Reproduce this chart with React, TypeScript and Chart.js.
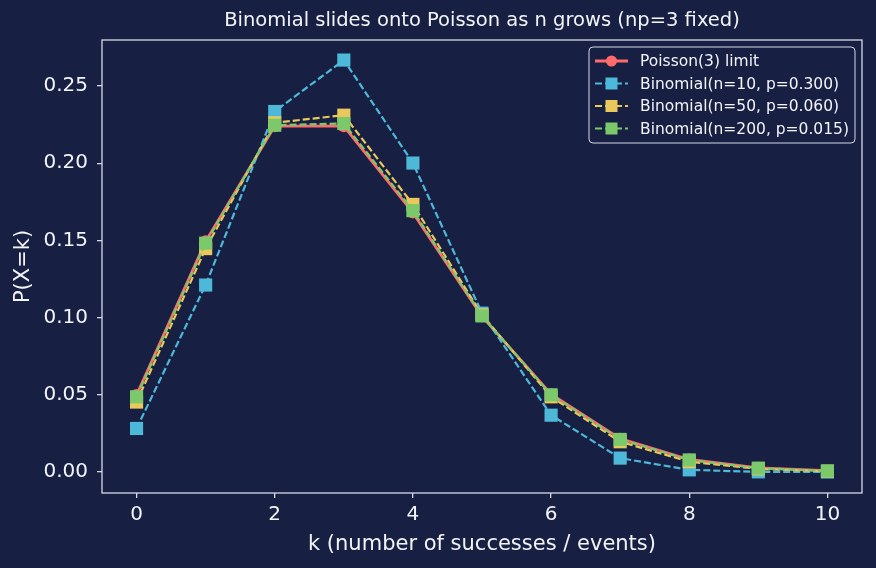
import React, { useEffect, useRef } from "react";
import { Chart, registerables } from "chart.js";

Chart.register(...registerables);

// k values and probability mass for each distribution
const kValues = [0, 1, 2, 3, 4, 5, 6, 7, 8, 9, 10];
const poisson3 = [0.0498, 0.1494, 0.224, 0.224, 0.168, 0.1008, 0.0504, 0.0216, 0.0081, 0.0027, 0.0008];
const binom10 = [0.0282, 0.1211, 0.2335, 0.2668, 0.2001, 0.1029, 0.0368, 0.009, 0.0014, 0.0001, 0.0];
const binom50 = [0.0453, 0.1447, 0.2262, 0.2311, 0.1733, 0.1018, 0.0487, 0.0196, 0.0067, 0.002, 0.0005];
const binom200 = [0.0487, 0.1482, 0.2246, 0.2257, 0.1693, 0.1011, 0.05, 0.0211, 0.0078, 0.0025, 0.0007];

const xTicks = [0, 2, 4, 6, 8, 10];
const yTicks = [0, 0.05, 0.1, 0.15, 0.2, 0.25];

const seriesLabels = [
  "Poisson(3) limit",
  "Binomial(n=10, p=0.300)",
  "Binomial(n=50, p=0.060)",
  "Binomial(n=200, p=0.015)",
];

const titleText = "Binomial slides onto Poisson as n grows (np=3 fixed)";
const xTitle = "k (number of successes / events)";
const yTitle = "P(X=k)";

const BG = "#172042";
const FG = "#f2f4f8";
const FRAME = "#d4d9e6";
const RED = "#ff6b6b";
const CYAN = "#4db8d8";
const YELLOW = "#e9c85c";
const GREEN = "#7cc96c";
const FONT = "'DejaVu Sans', sans-serif";

const toPoints = (ys: number[]) => kValues.map((k, i) => ({ x: k, y: ys[i] }));

const decorPlugin = {
  id: "decor",
  beforeDraw(chart: any) {
    const { ctx, width, height } = chart;
    ctx.save();
    ctx.fillStyle = BG;
    ctx.fillRect(0, 0, width, height);
    ctx.restore();
  },
  afterDraw(chart: any) {
    const { ctx, chartArea } = chart;
    ctx.save();
    // axes frame
    ctx.strokeStyle = FRAME;
    ctx.lineWidth = 1.3;
    ctx.strokeRect(chartArea.left, chartArea.top, chartArea.right - chartArea.left, chartArea.bottom - chartArea.top);

    // title
    ctx.fillStyle = FG;
    ctx.font = `19.5px ${FONT}`;
    ctx.textAlign = "center";
    ctx.textBaseline = "middle";
    ctx.fillText(titleText, (chartArea.left + chartArea.right) / 2, 21);

    // legend
    const bx = 589, by = 47, bw = 266, bh = 96;
    ctx.beginPath();
    ctx.roundRect(bx, by, bw, bh, 4);
    ctx.fillStyle = "rgba(23,32,66,0.85)";
    ctx.fill();
    ctx.strokeStyle = FRAME;
    ctx.lineWidth = 1;
    ctx.stroke();

    const colors = [RED, CYAN, YELLOW, GREEN];
    const rowY = [61, 83.5, 106, 128.5];
    ctx.font = `15.5px ${FONT}`;
    ctx.textAlign = "left";
    for (let i = 0; i < 4; i++) {
      const y = rowY[i];
      ctx.strokeStyle = colors[i];
      ctx.lineWidth = i === 0 ? 2.8 : 2.2;
      ctx.setLineDash(i === 0 ? [] : [7, 3]);
      ctx.beginPath();
      ctx.moveTo(595, y);
      ctx.lineTo(628, y);
      ctx.stroke();
      ctx.setLineDash([]);
      ctx.fillStyle = colors[i];
      if (i === 0) {
        ctx.beginPath();
        ctx.arc(611.5, y, 5.5, 0, Math.PI * 2);
        ctx.fill();
      } else {
        ctx.fillRect(611.5 - 6, y - 6, 12, 12);
      }
      ctx.fillStyle = FG;
      ctx.fillText(seriesLabels[i], 640, y + 1);
    }
    ctx.restore();
  },
};

export default function App() {
  const canvasRef = useRef<HTMLCanvasElement | null>(null);

  useEffect(() => {
    document.body.style.margin = "0";
    document.body.style.background = BG;
    const canvas = canvasRef.current;
    if (!canvas) return;

    const dashed = { borderDash: [7, 3], borderWidth: 2.2, pointStyle: "rect", pointRadius: 9.3, pointHoverRadius: 9.3 };

    const chart = new Chart(canvas, {
      type: "line",
      data: {
        datasets: [
          {
            label: seriesLabels[0],
            data: toPoints(poisson3),
            borderColor: RED,
            backgroundColor: RED,
            borderWidth: 2.8,
            pointStyle: "circle",
            pointRadius: 6,
            pointBorderWidth: 0,
            order: 4,
          },
          {
            label: seriesLabels[1],
            data: toPoints(binom10),
            borderColor: CYAN,
            backgroundColor: CYAN,
            pointBorderWidth: 0,
            order: 3,
            ...dashed,
          },
          {
            label: seriesLabels[2],
            data: toPoints(binom50),
            borderColor: YELLOW,
            backgroundColor: YELLOW,
            pointBorderWidth: 0,
            order: 2,
            ...dashed,
          },
          {
            label: seriesLabels[3],
            data: toPoints(binom200),
            borderColor: GREEN,
            backgroundColor: GREEN,
            pointBorderWidth: 0,
            order: 1,
            ...dashed,
          },
        ] as any,
      },
      options: {
        animation: false,
        responsive: false,
        maintainAspectRatio: false,
        events: [],
        layout: { padding: { top: 40, right: 14, left: 0, bottom: 0 } },
        plugins: { legend: { display: false }, title: { display: false }, tooltip: { enabled: false } },
        scales: {
          x: {
            type: "linear",
            min: -0.5,
            max: 10.5,
            afterBuildTicks: (s: any) => {
              s.ticks = xTicks.map((v) => ({ value: v }));
            },
            afterFit: (s: any) => {
              s.height = 75;
            },
            ticks: { color: FG, font: { family: FONT, size: 20 }, padding: 5, maxRotation: 0, callback: (v: any) => String(v) },
            grid: { display: true, drawOnChartArea: false, drawTicks: true, tickLength: 5, color: FRAME, lineWidth: 1.3 },
            border: { display: false },
            title: { display: true, text: xTitle, color: FG, font: { family: FONT, size: 21 }, padding: { top: 0, bottom: 11 } },
          },
          y: {
            type: "linear",
            min: -0.0136,
            max: 0.2798,
            afterBuildTicks: (s: any) => {
              s.ticks = yTicks.map((v) => ({ value: v }));
            },
            afterFit: (s: any) => {
              s.width = 102;
            },
            ticks: { color: FG, font: { family: FONT, size: 20 }, padding: 9, callback: (v: any) => Number(v).toFixed(2) },
            grid: { display: true, drawOnChartArea: false, drawTicks: true, tickLength: 5, color: FRAME, lineWidth: 1.3 },
            border: { display: false },
            title: { display: true, text: yTitle, color: FG, font: { family: FONT, size: 21 }, padding: { top: 11, bottom: 0 } },
          },
        },
      } as any,
      plugins: [decorPlugin],
    });

    return () => chart.destroy();
  }, []);

  return (
    <div style={{ width: 876, height: 568, background: BG }}>
      <canvas ref={canvasRef} width={876} height={568} />
    </div>
  );
}
